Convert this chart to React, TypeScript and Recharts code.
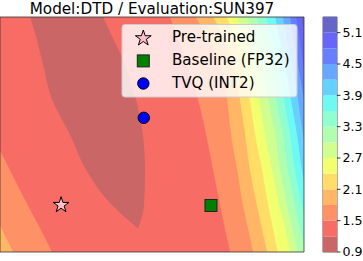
import React from "react";
import {
  ComposedChart,
  Area,
  XAxis,
  YAxis,
  ScatterChart,
  Scatter,
  BarChart,
  Bar,
  ReferenceArea,
} from "recharts";

const FONT = "'DejaVu Sans', sans-serif";
const W = 363;
const H = 261;
// plot box: x 0..304, y 17..252
const margin = { top: 17, right: 59, bottom: 9, left: 0 };

// contour levels (colorbar)
const levels = [0.9, 1.2, 1.5, 1.8, 2.1, 2.4, 2.7, 3.0, 3.3, 3.6, 3.9, 4.2, 4.5, 4.8, 5.1, 5.4];
const cbTicks = [0.9, 1.5, 2.1, 2.7, 3.3, 3.9, 4.5, 5.1];

// rows of the landscape (0 = bottom, 100 = top), x of each contour line read at these rows
const yRows = [0, 10, 20, 35, 50, 65, 80, 90, 100];

// right side of the basin
const edge15 = [55.9, 58.9, 61.5, 65.1, 67.8, 70.1, 72.4, 74.0, 75.7];
const edge18 = [64.5, 68.4, 72.4, 74.7, 76.0, 78.0, 79.9, 81.6, 83.2];
const edge21 = [70.1, 74.0, 76.6, 78.9, 80.6, 82.2, 84.5, 86.2, 87.8];
const edge24 = [74.7, 77.6, 79.9, 82.2, 83.9, 86.2, 88.2, 89.8, 91.4];
const edge27 = [78.0, 80.6, 82.9, 85.2, 87.2, 89.5, 91.8, 93.8, 95.4];
const edge30 = [81.3, 83.9, 86.2, 88.2, 90.5, 92.1, 94.4, 96.1, 98.0];
const edge33 = [84.5, 86.5, 88.8, 90.8, 93.1, 94.7, 97.0, 98.7, 100.7];
const edge36 = [87.5, 89.5, 91.4, 93.4, 95.4, 97.0, 99.3, 101.0, 103.0];
const edge39 = [90.5, 92.1, 93.8, 95.7, 97.7, 99.3, 101.6, 103.3, 105.3];
const edge42 = [93.1, 94.4, 96.1, 98.0, 99.7, 101.6, 103.9, 105.6, 107.6];
const edge45 = [95.4, 96.7, 98.0, 100.0, 102.0, 103.9, 106.3, 108.2, 110.2];
const edge48 = [97.4, 98.7, 99.7, 102.0, 104.3, 106.3, 108.6, 110.5, 112.8];
const edge51 = [99.0, 100.3, 101.6, 103.9, 106.6, 108.6, 111.2, 113.2, 115.5];
const rightEdges = [edge15, edge18, edge21, edge24, edge27, edge30, edge33, edge36, edge39, edge42, edge45, edge48, edge51];

// left side (top-left corner)
const leftEdge15 = [-22.7, -18.6, -14.7, -8.8, -2.7, 3.2, 9.1, 13.2, 17.1];
const leftEdge18 = [-34.5, -30.6, -26.6, -21.1, -15.1, -9.2, -3.5, 0.5, 4.3];

// the low-loss valley (level 0.9 - 1.2)
const valleyLeft = [9.9, 12.2, 14.1, 17.1, 23.0, 28.3, 36.8, 45.4, null];
const valleyRight = [33.9, 37.5, 41.1, 44.7, 47.0, 47.7, 47.4, 45.4, null];

// markers
const markerNames = ["Pre-trained", "Baseline (FP32)", "TVQ (INT2)"];
const markerX = [20.1, 69.4, 47.3];
const markerY = [20.0, 19.8, 57.1];

// jet colormap, reversed, drawn at alpha 0.6
const JET = {
  r: [[0, 0], [0.35, 0], [0.66, 1], [0.89, 1], [1, 0.5]],
  g: [[0, 0], [0.125, 0], [0.375, 1], [0.64, 1], [0.91, 0], [1, 0]],
  b: [[0, 0.5], [0.11, 1], [0.34, 1], [0.65, 0], [1, 0]],
};
function seg(pts: number[][], t: number) {
  for (let i = 1; i < pts.length; i++) {
    if (t <= pts[i][0]) {
      const [x0, y0] = pts[i - 1];
      const [x1, y1] = pts[i];
      return y0 + ((t - x0) / (x1 - x0)) * (y1 - y0);
    }
  }
  return pts[pts.length - 1][1];
}
function bandColor(i: number) {
  const n = levels.length - 1;
  const t = 1 - (i + 0.5) / n;
  const mix = (v: number) => Math.round(255 * (0.6 * v + 0.4));
  return `rgb(${mix(seg(JET.r, t))},${mix(seg(JET.g, t))},${mix(seg(JET.b, t))})`;
}

const rows = yRows.map((y, r) => ({ y, r }));
const cbRow: Record<string, number | string> = { name: "cb" };
levels.slice(0, -1).forEach((lv, i) => {
  cbRow[`s${i}`] = i === 0 ? levels[1] : levels[i + 1] - lv;
});

const LO = -40;
const HI = 140;

type Band = { key: string; band: number; get: (r: number) => [number, number] | null };
const bands: Band[] = [
  { key: "base", band: 1, get: () => [LO, HI] },
  { key: "l15", band: 2, get: (r) => [LO, leftEdge15[r]] },
  { key: "l18", band: 3, get: (r) => [LO, leftEdge18[r]] },
  {
    key: "valley",
    band: 0,
    get: (r) => (valleyLeft[r] == null || valleyRight[r] == null ? null : [valleyLeft[r] as number, valleyRight[r] as number]),
  },
  ...rightEdges.map((e, k) => ({ key: `r${k}`, band: k + 2, get: (r: number) => [e[r], HI] as [number, number] })),
];

function starPoints(cx: number, cy: number, R: number) {
  const pts: string[] = [];
  for (let k = 0; k < 10; k++) {
    const a = (-90 + k * 36) * (Math.PI / 180);
    const rr = k % 2 ? R * 0.382 : R;
    pts.push(`${cx + rr * Math.cos(a)},${cy + rr * Math.sin(a)}`);
  }
  return pts.join(" ");
}

function Marker({ kind, cx, cy }: { kind: number; cx: number; cy: number }) {
  if (kind === 0)
    return <polygon points={starPoints(cx, cy, 8.3)} fill="pink" stroke="#000" strokeWidth={1} strokeLinejoin="miter" />;
  if (kind === 1)
    return <rect x={cx - 6} y={cy - 6} width={12} height={12} fill="green" stroke="#222" strokeWidth={1} />;
  return <circle cx={cx} cy={cy} r={5.7} fill="blue" stroke="#000" strokeWidth={1} />;
}

const layer: React.CSSProperties = { position: "absolute", left: 0, top: 0 };

export default function App() {
  return (
    <div style={{ position: "absolute", left: 0, top: 0, width: W, height: H, background: "#fff", fontFamily: FONT }}>
      <div style={layer}>
        <ComposedChart width={W} height={H} data={rows} layout="vertical" margin={margin}>
          <XAxis type="number" domain={[0, 100]} allowDataOverflow hide />
          <YAxis type="number" dataKey="y" domain={[0, 100]} allowDataOverflow hide />
          {bands.map((b) => (
            <Area
              key={b.key}
              dataKey={(d: { r: number }) => b.get(d.r)}
              type="monotone"
              fill={bandColor(b.band)}
              fillOpacity={1}
              stroke="none"
              dot={false}
              activeDot={false}
              isAnimationActive={false}
            />
          ))}
        </ComposedChart>
      </div>

      <div style={layer}>
        <BarChart width={W} height={H} data={[cbRow]} margin={{ top: 17, right: 0, bottom: 9, left: 323 }} barCategoryGap={0}>
          <XAxis type="category" dataKey="name" hide />
          <YAxis
            orientation="right"
            type="number"
            width={26}
            domain={[levels[0], levels[levels.length - 1]]}
            allowDataOverflow
            ticks={cbTicks}
            interval={0}
            tickFormatter={(v: number) => v.toFixed(1)}
            axisLine={false}
            tickSize={3.5}
            tickMargin={2}
            tickLine={{ stroke: "#000", strokeWidth: 0.8 }}
            tick={{ fill: "#000", fontSize: 12.6, fontFamily: FONT }}
          />
          {levels.slice(0, -1).map((_, i) => (
            <Bar key={i} dataKey={`s${i}`} stackId="cb" fill={bandColor(i)} isAnimationActive={false} />
          ))}
          <ReferenceArea y1={levels[0]} y2={levels[levels.length - 1]} fill="none" stroke="#333" strokeWidth={0.8} />
        </BarChart>
      </div>

      <div style={layer}>
        <ScatterChart width={W} height={H} margin={margin}>
          <XAxis type="number" dataKey="x" domain={[0, 100]} allowDataOverflow hide />
          <YAxis type="number" dataKey="y" domain={[0, 100]} allowDataOverflow hide />
          <ReferenceArea x1={0} x2={100} y1={0} y2={100} fill="none" stroke="#333" strokeWidth={0.8} />
          {markerNames.map((name, i) => (
            <Scatter
              key={name}
              name={name}
              data={[{ x: markerX[i], y: markerY[i] }]}
              shape={(p: any) => <Marker kind={i} cx={p.cx} cy={p.cy} />}
              isAnimationActive={false}
            />
          ))}
        </ScatterChart>
      </div>

      <svg style={layer} width={W} height={H}>
        <text x={152} y={13.5} textAnchor="middle" fontSize={15.2} fontFamily={FONT} fill="#000">
          Model:DTD / Evaluation:SUN397
        </text>
        <rect x={122} y={24.5} width={175} height={72.5} rx={3} fill="#fff" fillOpacity={0.8} stroke="#ccc" strokeWidth={1} />
        {markerNames.map((name, i) => (
          <g key={name}>
            <Marker kind={i} cx={143.3} cy={38.3 + i * 22.6} />
            <text x={172} y={42.4 + i * 22.9} fontSize={15.1} fontFamily={FONT} fill="#000">
              {name}
            </text>
          </g>
        ))}
      </svg>
    </div>
  );
}
